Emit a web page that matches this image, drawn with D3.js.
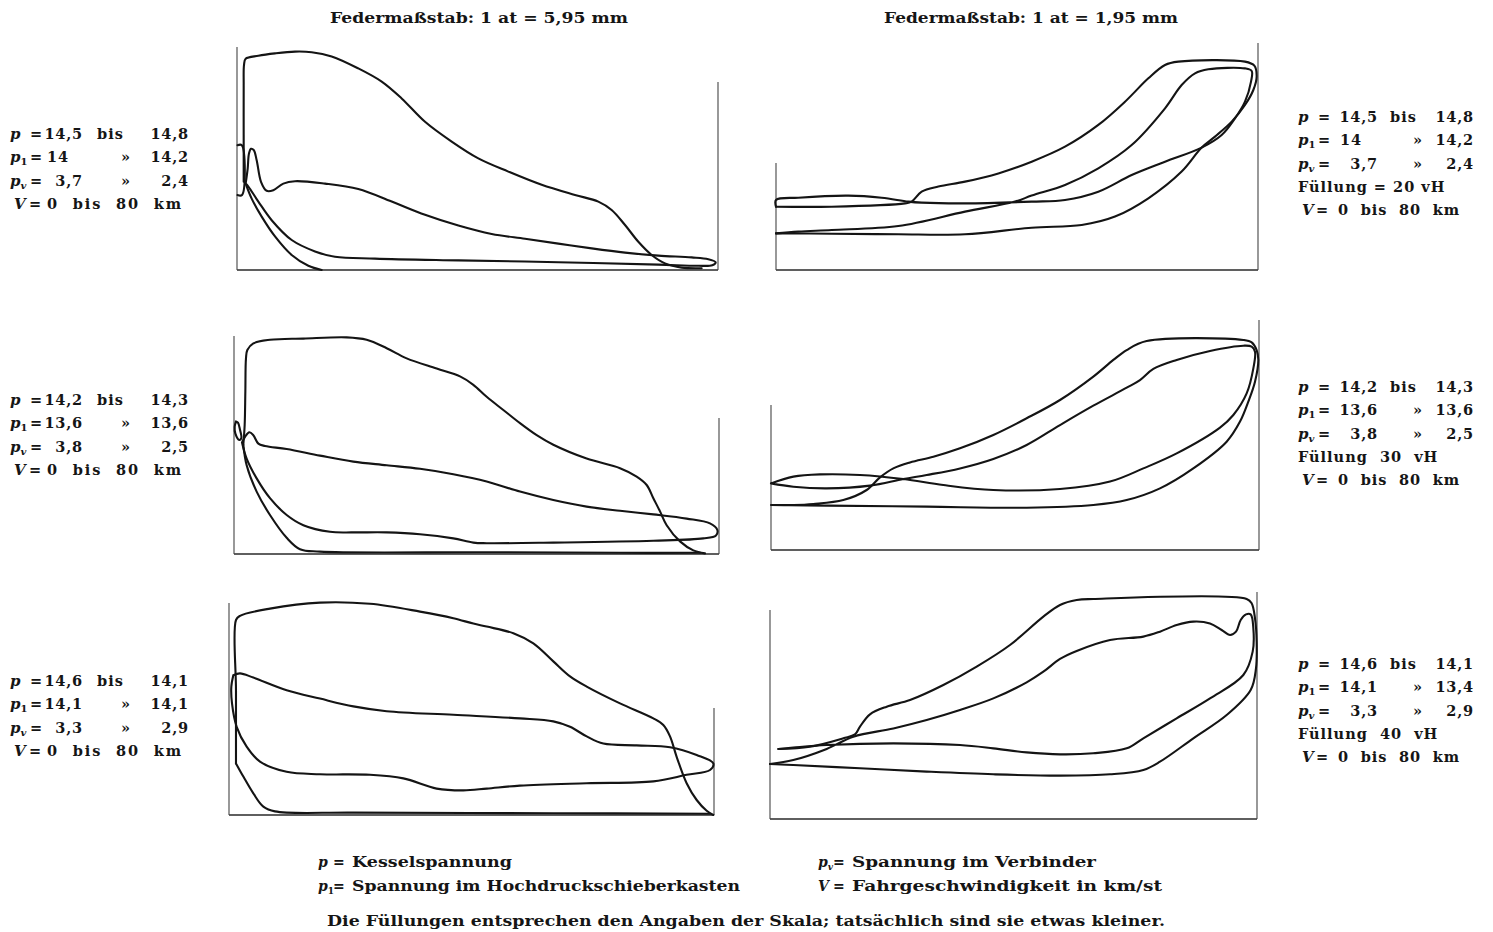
<!DOCTYPE html>
<html><head><meta charset="utf-8">
<script src="https://cdn.jsdelivr.net/npm/d3@7"></script>
<style>
html,body{margin:0;padding:0;background:#fff;}
svg{display:block;}
text{font-family:"DejaVu Serif","Liberation Serif",serif;font-weight:bold;fill:#151515;}
</style></head><body>
<svg id="chart" width="1493" height="932"></svg>
<script>
// ---------- DATA: indicator curves, x = % of stroke, y = pressure (at) ----------
// Panel A: low-pressure side, Füllung 20 vH
const a_outer = [[1.39,1.47],[1.39,2.25],[1.39,3.08],[1.46,3.42],[1.80,3.52],[4.44,3.57],[7.90,3.61],[12.06,3.64],[15.52,3.63],[19.68,3.56],[25.22,3.36],[30.08,3.14],[34.23,2.86],[39.09,2.47],[44.63,2.14],[50.17,1.86],[56.41,1.64],[63.34,1.42],[70.27,1.25],[75.12,1.14],[77.89,1.00],[80.67,0.75],[83.44,0.47],[86.21,0.25],[88.98,0.11],[92.45,0.04],[96.6,0.03]];
const a_steep = [[1.80,1.44],[3.05,1.19],[5.13,0.89],[7.90,0.56],[11.37,0.25],[14.83,0.07],[17.60,0.0]];
const a_mid = [[1.80,1.44],[2.22,1.69],[2.49,1.94],[2.91,2.02],[3.47,2.00],[4.09,1.83],[4.99,1.47],[6.17,1.32],[7.55,1.33],[9.63,1.44],[12.06,1.48],[18.30,1.44],[25.22,1.35],[32.16,1.14],[39.09,0.92],[46.02,0.74],[52.95,0.60],[59.88,0.52],[66.81,0.44],[73.74,0.36],[80.67,0.29],[87.60,0.24],[94.53,0.21],[97.99,0.18],[99.51,0.13],[98.82,0.08],[95.91,0.07],[87.60,0.09],[66.81,0.13],[46.02,0.16],[28.69,0.19],[20.37,0.22],[16.22,0.31],[11.37,0.50],[7.21,0.83],[4.44,1.14],[2.36,1.39],[1.80,1.44]];
const a_notch = [[0.1,2.08],[1.0,2.08],[1.05,1.25],[0.1,1.25]];

// Panel B: high-pressure side, Füllung 20 vH
const b_outer = [[0,4.22],[11.55,4.22],[26.76,4.44],[28.15,4.56],[30.22,5.22],[33.68,5.56],[39.21,5.89],[46.13,6.44],[53.04,7.22],[59.96,8.22],[66.87,9.67],[72.41,11.22],[77.25,12.78],[80.71,13.67],[83.47,13.89],[97.30,13.89],[99.24,13.62],[99.72,12.89],[99.03,12.00],[97.30,11.00],[94.54,9.89],[91.08,8.89],[88.31,8.16],[84.16,6.56],[77.25,4.78],[70.33,3.56],[63.42,3.00],[53.04,2.82],[39.21,2.38],[25.38,2.38],[11.55,2.42],[0,2.44]];
const b_inner = [[0,2.44],[4.63,2.56],[11.55,2.67],[25.38,2.93],[39.21,3.89],[49.59,4.56],[53.04,4.96],[59.96,5.67],[66.87,6.78],[73.79,8.33],[80.71,10.78],[84.16,12.33],[86.93,13.11],[89.70,13.38],[97.30,13.44],[98.69,13.27],[98.55,12.56],[97.30,11.22],[95.23,10.11],[92.46,9.00],[88.31,8.16],[80.71,7.22],[73.79,6.33],[66.87,5.22],[59.96,4.67],[53.04,4.56],[39.21,4.44],[30.22,4.49],[27.46,4.56],[21.92,4.82],[15.01,4.96],[4.63,4.82],[0,4.67],[0,4.22]];

// Panel C: low-pressure side, Füllung 30 vH
const c_outer = [[1.92,1.82],[2.20,2.15],[2.34,2.71],[2.47,3.26],[2.75,3.40],[3.99,3.51],[7.42,3.57],[14.30,3.59],[23.23,3.61],[27.35,3.57],[31.48,3.43],[35.60,3.26],[41.79,3.09],[46.60,2.96],[49.35,2.82],[52.10,2.62],[55.53,2.40],[58.97,2.18],[62.41,1.98],[65.84,1.82],[72.71,1.59],[79.59,1.43],[83.02,1.29],[85.09,1.15],[86.46,0.93],[87.84,0.71],[89.21,0.48],[91.96,0.21],[94.71,0.06],[97.11,0.01]];
const c_steep = [[1.92,1.82],[2.61,1.48],[4.67,1.04],[7.42,0.65],[10.86,0.27],[13.61,0.08],[17.73,0.04],[52.10,0.03],[79.59,0.02],[96.08,0.02]];
const c_spike = [[0.41,2.21],[0.14,2.12],[0.27,2.01],[1.10,1.90],[1.51,1.93],[1.24,2.07],[0.82,2.19],[0.41,2.21]];
const c_mid = [[1.65,1.86],[2.34,1.96],[3.16,2.03],[3.99,1.98],[5.02,1.84],[6.39,1.80],[10.86,1.75],[17.73,1.64],[24.60,1.54],[31.48,1.48],[38.35,1.42],[45.22,1.33],[52.10,1.21],[58.97,1.04],[65.84,0.90],[72.71,0.79],[79.59,0.72],[86.46,0.66],[93.33,0.59],[98.14,0.51],[99.66,0.40],[99.38,0.31],[96.77,0.26],[86.46,0.22],[65.84,0.19],[52.10,0.18],[49.35,0.19],[45.22,0.26],[38.35,0.33],[31.48,0.36],[24.60,0.36],[19.79,0.37],[14.30,0.48],[10.86,0.65],[7.42,0.93],[4.67,1.26],[2.61,1.59],[1.65,1.86]];

// Panel D: high-pressure side, Füllung 30 vH
const d_outer = [[0,3.00],[4.58,3.00],[8.67,3.07],[14.82,3.33],[19.60,4.00],[22.34,4.84],[25.07,5.44],[28.48,5.84],[33.27,6.22],[38.73,6.78],[45.56,7.67],[52.39,8.78],[59.22,10.00],[66.05,11.56],[70.15,12.67],[72.88,13.33],[76.98,13.93],[96.79,14.00],[98.50,13.84],[99.52,13.33],[99.86,12.67],[99.18,11.22],[97.81,9.89],[96.11,8.56],[93.37,7.22],[86.54,5.44],[79.71,4.11],[72.88,3.33],[66.05,3.00],[52.39,2.82],[31.90,2.89],[11.41,2.96],[0,3.00]];
const d_inner = [[0,4.44],[4.58,4.89],[10.04,5.04],[18.24,5.00],[27.12,4.73],[35.31,4.33],[45.56,4.00],[59.22,4.07],[69.47,4.56],[76.30,5.44],[83.13,6.44],[92.01,8.16],[94.74,9.00],[97.47,10.44],[98.84,12.11],[99.18,13.22],[98.50,13.56],[96.79,13.62],[89.96,13.27],[83.13,12.67],[78.35,12.07],[75.61,11.33],[72.88,10.82],[66.05,9.62],[59.22,8.33],[52.39,7.00],[45.56,6.07],[38.73,5.44],[31.90,5.00],[27.12,4.73],[20.29,4.29],[11.41,4.11],[4.58,4.22],[0,4.44]];

// Panel E: low-pressure side, Füllung 40 vH
const e_outer = [[1.44,0.86],[1.44,2.08],[1.44,3.25],[2.27,3.32],[8.45,3.44],[18.76,3.54],[29.07,3.52],[39.38,3.39],[46.25,3.28],[50.38,3.19],[53.13,3.14],[58.63,3.03],[62.75,2.86],[66.87,2.56],[70.31,2.31],[73.75,2.14],[80.62,1.86],[87.49,1.61],[89.55,1.50],[90.93,1.31],[92.30,0.97],[94.36,0.53],[96.43,0.25],[98.49,0.07],[99.86,0]];
const e_steep = [[1.44,0.86],[2.96,0.64],[5.02,0.36],[7.08,0.14],[9.48,0.06],[25.64,0.04],[66.87,0.03],[99.18,0.02]];
const e_mid = [[0.89,2.33],[2.27,2.36],[5.02,2.29],[11.89,2.08],[18.76,1.94],[25.64,1.81],[32.51,1.73],[46.25,1.67],[59.99,1.61],[66.87,1.56],[70.31,1.47],[73.75,1.31],[77.18,1.19],[84.05,1.16],[90.93,1.13],[96.43,1.00],[99.86,0.86],[99.18,0.75],[94.36,0.67],[87.49,0.56],[73.75,0.53],[59.99,0.49],[53.13,0.44],[48.32,0.41],[42.82,0.44],[35.95,0.61],[29.07,0.67],[18.76,0.68],[11.89,0.72],[6.39,0.89],[3.64,1.14],[1.58,1.47],[0.62,1.86],[0.48,2.14],[0.89,2.33]];

// Panel F: high-pressure side, Füllung 40 vH
const f_upper = [[1.71,4.67],[8.21,4.82],[15.06,5.38],[17.45,5.64],[18.48,6.16],[20.53,6.98],[23.96,7.49],[28.75,7.93],[35.59,8.93],[42.44,10.16],[49.28,11.60],[56.13,13.49],[59.55,14.27],[62.97,14.60],[66.39,14.67],[97.88,14.67],[98.90,14.38],[99.59,13.38],[99.93,11.82],[99.79,10.04],[98.70,8.60],[93.77,6.93],[86.93,5.38],[80.08,3.82],[76.66,3.27],[69.82,2.98],[59.55,2.89],[45.86,2.98],[32.17,3.16],[18.48,3.38],[4.79,3.60],[0,3.67]];
const f_lower = [[0,3.67],[4.79,3.93],[11.64,4.67],[17.11,5.49],[25.33,6.04],[32.17,6.60],[39.01,7.27],[45.86,8.04],[52.70,9.11],[56.13,9.82],[59.55,10.67],[62.97,11.20],[69.82,11.93],[76.66,12.16],[80.08,12.49],[83.50,12.93],[86.93,13.16],[90.35,13.04],[92.74,12.60],[94.46,12.27],[95.69,12.49],[96.65,13.27],[97.74,13.64],[98.70,13.64],[99.25,12.71],[99.11,11.16],[97.19,9.60],[90.35,8.04],[83.50,6.71],[76.66,5.38],[73.24,4.71],[66.39,4.38],[59.55,4.31],[52.70,4.44],[45.86,4.71],[39.01,4.93],[25.33,5.04],[11.64,4.93],[4.79,4.76],[1.71,4.67]];

// ---------- TEXT DATA ----------
const headings = ["Federmaßstab: 1 at = 5,95 mm", "Federmaßstab: 1 at = 1,95 mm"];
const labelsA = [["p","","14,5","bis","14,8"],["p","1","14","»","14,2"],["p","v","3,7","»","2,4"],["V","","0  bis  80  km"]];
const labelsC = [["p","","14,2","bis","14,3"],["p","1","13,6","»","13,6"],["p","v","3,8","»","2,5"],["V","","0  bis  80  km"]];
const labelsE = [["p","","14,6","bis","14,1"],["p","1","14,1","»","14,1"],["p","v","3,3","»","2,9"],["V","","0  bis  80  km"]];
const labelsB = [["p","","14,5","bis","14,8"],["p","1","14","»","14,2"],["p","v","3,7","»","2,4"],["Füllung = 20 vH"],["V","","0  bis  80  km"]];
const labelsD = [["p","","14,2","bis","14,3"],["p","1","13,6","»","13,6"],["p","v","3,8","»","2,5"],["Füllung  30  vH"],["V","","0  bis  80  km"]];
const labelsF = [["p","","14,6","bis","14,1"],["p","1","14,1","»","13,4"],["p","v","3,3","»","2,9"],["Füllung  40  vH"],["V","","0  bis  80  km"]];
const legendLeft = [["p","","Kesselspannung"],["p","1","Spannung im Hochdruckschieberkasten"]];
const legendRight = [["p","v","Spannung im Verbinder"],["V","","Fahrgeschwindigkeit in km/st"]];
const footnote = "Die Füllungen entsprechen den Angaben der Skala; tatsächlich sind sie etwas kleiner.";

// ---------- LAYOUT ----------
const panels = [
  {curves:[a_outer,a_steep,a_mid,a_notch], L:237, R:718, base:270, topL:47, topR:82, ymax:4},
  {curves:[b_outer,b_inner], L:776, R:1258, base:270, topL:163, topR:43, ymax:16},
  {curves:[c_outer,c_steep,c_spike,c_mid], L:234, R:719, base:554, topL:336, topR:418, ymax:4},
  {curves:[d_outer,d_inner], L:771, R:1259, base:550, topL:405, topR:320, ymax:16},
  {curves:[e_outer,e_steep,e_mid], L:229, R:714, base:815, topL:603, topR:708, ymax:4},
  {curves:[f_upper,f_lower], L:770, R:1257, base:819, topL:610, topR:592, ymax:16}
];

const svg = d3.select("#chart");

panels.forEach(p => {
  const x = d3.scaleLinear().domain([0,100]).range([p.L, p.R]);
  const y = d3.scaleLinear().domain([0,p.ymax]).range([p.base, p.base-240]);
  const g = svg.append("g");
  g.append("line").attr("x1",x(0)).attr("x2",x(100)).attr("y1",y(0)).attr("y2",y(0))
    .attr("stroke","#2a2a2a").attr("stroke-width",1.6);
  g.append("line").attr("x1",x(0)).attr("x2",x(0)).attr("y1",y(0)).attr("y2",p.topL)
    .attr("stroke","#444").attr("stroke-width",1.1);
  g.append("line").attr("x1",x(100)).attr("x2",x(100)).attr("y1",y(0)).attr("y2",p.topR)
    .attr("stroke","#444").attr("stroke-width",1.1);
  const line = d3.line().x(d=>x(d[0])).y(d=>y(d[1])).curve(d3.curveCatmullRom.alpha(0.5));
  g.selectAll("path.c").data(p.curves).join("path").attr("class","c")
    .attr("d", line).attr("fill","none").attr("stroke","#141414")
    .attr("stroke-width",2.1).attr("stroke-linejoin","round").attr("stroke-linecap","round");
});

// headings
svg.append("text").attr("x",479).attr("y",23).attr("text-anchor","middle")
  .attr("font-size",14).attr("textLength",298).attr("lengthAdjust","spacingAndGlyphs").text(headings[0]);
svg.append("text").attr("x",1031).attr("y",23).attr("text-anchor","middle")
  .attr("font-size",14).attr("textLength",294).attr("lengthAdjust","spacingAndGlyphs").text(headings[1]);

const FS = 14.5;
function sym(s, sub, x, yb){
  const tx = svg.append("text").attr("x",x).attr("y",yb).attr("font-size",FS+0.5);
  tx.append("tspan").attr("font-style","italic").text(s);
  if (sub) tx.append("tspan").attr("font-size",10).attr("dy",3)
    .attr("font-style", sub==="v" ? "italic" : "normal").text(sub);
  return tx;
}
function block(rows, x0, y0, cols){
  rows.forEach((r,i) => {
    const yb = y0 + i*23.3;
    if (r.length === 1){
      svg.append("text").attr("x",x0+cols.full).attr("y",yb).attr("font-size",FS)
        .attr("letter-spacing",1).attr("xml:space","preserve").style("white-space","pre").text(r[0]);
      return;
    }
    sym(r[0], r[1], x0 + (r[0]==="V"? cols.V : 0), yb);
    svg.append("text").attr("x",x0+(r[0]==="V"?cols.eqV:cols.eq)).attr("y",yb).attr("font-size",FS).text("=");
    if (r.length === 3){
      svg.append("text").attr("x",x0+cols.tail).attr("y",yb).attr("font-size",FS)
        .attr("textLength",cols.tailLen).attr("lengthAdjust","spacing")
        .attr("xml:space","preserve").style("white-space","pre").text(r[2]);
      return;
    }
    const hasComma = r[2].indexOf(",")>=0;
    svg.append("text").attr("x", x0 + (hasComma? cols.v1End : cols.v1Start)).attr("y",yb)
      .attr("text-anchor", hasComma? "end":"start").attr("font-size",FS).attr("letter-spacing",0.8).text(r[2]);
    svg.append("text").attr("x", x0 + (r[3]==="bis"? cols.bis : cols.guil)).attr("y",yb)
      .attr("font-size",FS).attr("letter-spacing",1).text(r[3]);
    svg.append("text").attr("x", x0 + cols.v2End).attr("y",yb).attr("text-anchor","end")
      .attr("font-size",FS).attr("letter-spacing",0.8).text(r[4]);
  });
}
const leftCols = {V:4, eq:20, eqV:19, v1Start:37, v1End:73, bis:87, guil:111, v2End:179, tail:37, tailLen:134, full:0};
const rightCols = {V:4, eq:20, eqV:18, v1Start:42, v1End:80, bis:92, guil:115, v2End:176, tail:40, tailLen:121, full:0};
block(labelsA, 10, 139, leftCols);
block(labelsC, 10, 405, leftCols);
block(labelsE, 10, 686, leftCols);
block(labelsB, 1298, 122, rightCols);
block(labelsD, 1298, 392, rightCols);
block(labelsF, 1298, 669, rightCols);

// legend
function legendRow(r, x, yb, width){
  const tx = svg.append("text").attr("x",x).attr("y",yb).attr("font-size",14);
  tx.append("tspan").attr("font-style","italic").text(r[0]);
  if (r[1]) tx.append("tspan").attr("font-size",9).attr("dy",3)
    .attr("font-style", r[1]==="v" ? "italic" : "normal").text(r[1]);
  svg.append("text").attr("x",x+15).attr("y",yb).attr("font-size",14).text("=");
  svg.append("text").attr("x",x+34).attr("y",yb).attr("font-size",14)
    .attr("textLength",width).attr("lengthAdjust","spacingAndGlyphs").text(r[2]);
}
legendRow(legendLeft[0], 318, 867, 160);
legendRow(legendLeft[1], 318, 891, 388);
legendRow(legendRight[0], 818, 867, 244);
legendRow(legendRight[1], 818, 891, 310);
svg.append("text").attr("x",746).attr("y",926).attr("text-anchor","middle").attr("font-size",14)
  .attr("textLength",838).attr("lengthAdjust","spacingAndGlyphs").text(footnote);
</script>
</body></html>
